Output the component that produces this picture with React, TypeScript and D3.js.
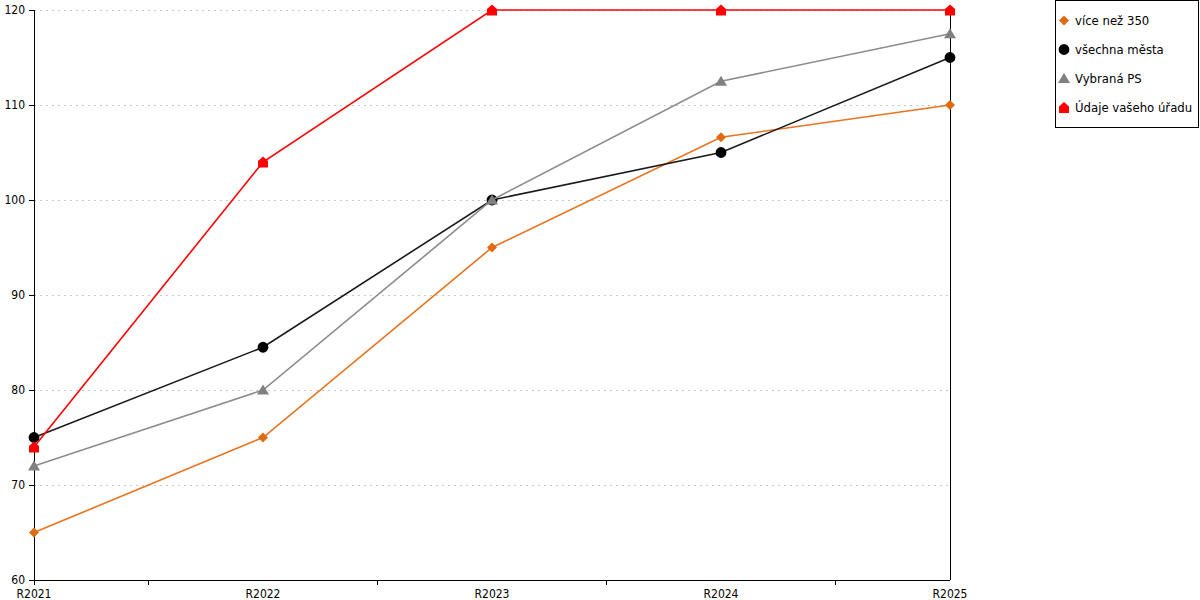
import { useEffect, useRef } from 'react'
import * as d3 from 'd3'

const categories = ['R2021', 'R2022', 'R2023', 'R2024', 'R2025']
const seriesNames = ['více než 350', 'všechna města', 'Vybraná PS', 'Údaje vašeho úřadu']
const viceNez350 = [65, 75, 95, 106.6, 110]
const vsechnaMesta = [75, 84.5, 100, 105, 115]
const vybranaPS = [72, 80, 100, 112.5, 117.5]
const udajeUradu = [74, 104, 120, 120, 120]
const yTicks = [60, 70, 80, 90, 100, 110, 120]

const lineColors = ['#e8731e', '#1a1a1a', '#8c8c8c', '#ff0000']
const markerColors = ['#e06a10', '#000000', '#808080', '#ff0000']
const markerTypes = ['diamond', 'circle', 'triangle', 'house']

function markerPath(type: string): string {
  switch (type) {
    case 'diamond':
      return 'M0,-5L5,0L0,5L-5,0Z'
    case 'circle':
      return d3.symbol(d3.symbolCircle, 92)() as string
    case 'triangle':
      return 'M0,-5.5L6,4.5L-6,4.5Z'
    default:
      return 'M0,-5.5L5,-1L5,5.5L-5,5.5L-5,-1Z'
  }
}

export default function App() {
  const svgRef = useRef<SVGSVGElement>(null)
  const width = 1200
  const height = 600

  useEffect(() => {
    if (!svgRef.current) return
    const svg = d3.select(svgRef.current)
    svg.selectAll('*').remove()

    const left = 34
    const right = 950
    const top = 10
    const bottom = 580

    const x = d3.scalePoint<string>().domain(categories).range([left, right])
    const y = d3.scaleLinear().domain([60, 120]).range([bottom, top])
    const step = x.step()

    const font = 'DejaVu Sans, sans-serif'
    const axisFont = '"DejaVu Sans Condensed", "DejaVu Sans", sans-serif'

    // gridlines
    svg.append('g')
      .selectAll('line')
      .data(yTicks.slice(1))
      .join('line')
      .attr('x1', left)
      .attr('x2', right)
      .attr('y1', d => y(d))
      .attr('y2', d => y(d))
      .attr('stroke', '#c8c8c8')
      .attr('stroke-width', 1)
      .attr('stroke-dasharray', '2,4')
      .attr('shape-rendering', 'crispEdges')

    // axes
    const axisG = svg.append('g').attr('shape-rendering', 'crispEdges')
    axisG.append('line')
      .attr('x1', left).attr('x2', left).attr('y1', top).attr('y2', bottom + 5)
      .attr('stroke', '#000')
    axisG.append('line')
      .attr('x1', right).attr('x2', right).attr('y1', top).attr('y2', bottom)
      .attr('stroke', '#000')
    axisG.append('line')
      .attr('x1', left).attr('x2', right).attr('y1', bottom).attr('y2', bottom)
      .attr('stroke', '#000')

    axisG.selectAll('.ytick')
      .data(yTicks)
      .join('line')
      .attr('x1', left - 5).attr('x2', left)
      .attr('y1', d => y(d)).attr('y2', d => y(d))
      .attr('stroke', '#000')

    svg.selectAll('.ylabel')
      .data(yTicks)
      .join('text')
      .attr('x', left - 9)
      .attr('y', d => y(d) + 4)
      .attr('text-anchor', 'end')
      .style('font-family', axisFont)
      .style('font-size', '12px')
      .text(d => d)

    // minor x ticks between categories
    axisG.selectAll('.xtick')
      .data(categories.slice(0, -1))
      .join('line')
      .attr('x1', d => (x(d) as number) + step / 2)
      .attr('x2', d => (x(d) as number) + step / 2)
      .attr('y1', bottom).attr('y2', bottom + 5)
      .attr('stroke', '#000')

    svg.selectAll('.xlabel')
      .data(categories)
      .join('text')
      .attr('x', d => x(d) as number)
      .attr('y', bottom + 18)
      .attr('text-anchor', 'middle')
      .style('font-family', axisFont)
      .style('font-size', '12px')
      .text(d => d)

    const allSeries = [viceNez350, vsechnaMesta, vybranaPS, udajeUradu]
    const line = d3.line<number>()
      .x((_, i) => x(categories[i]) as number)
      .y(d => y(d))

    allSeries.forEach((values, si) => {
      svg.append('path')
        .datum(values)
        .attr('d', line)
        .attr('fill', 'none')
        .attr('stroke', lineColors[si])
        .attr('stroke-width', 1.6)

      svg.append('g')
        .selectAll('path')
        .data(values)
        .join('path')
        .attr('transform', (d, i) => `translate(${x(categories[i])},${y(d)})`)
        .attr('d', markerPath(markerTypes[si]))
        .attr('fill', markerColors[si])
    })

    // legend
    const lg = svg.append('g').attr('transform', 'translate(1055,0.5)')
    lg.append('rect')
      .attr('x', 0.5).attr('y', 0).attr('width', 143).attr('height', 127)
      .attr('fill', '#fff').attr('stroke', '#000')
    seriesNames.forEach((name, i) => {
      const cy = 20 + i * 29
      lg.append('path')
        .attr('transform', `translate(9,${cy})`)
        .attr('d', markerPath(markerTypes[i]))
        .attr('fill', markerColors[i])
      lg.append('text')
        .attr('x', 20)
        .attr('y', cy + 4)
        .style('font-family', font)
        .style('font-size', '11.7px')
        .text(name)
    })
  }, [])

  return (
    <svg
      ref={svgRef}
      width={width}
      height={height}
      style={{ position: 'absolute', left: 0, top: 0, background: '#fff' }}
    />
  )
}
